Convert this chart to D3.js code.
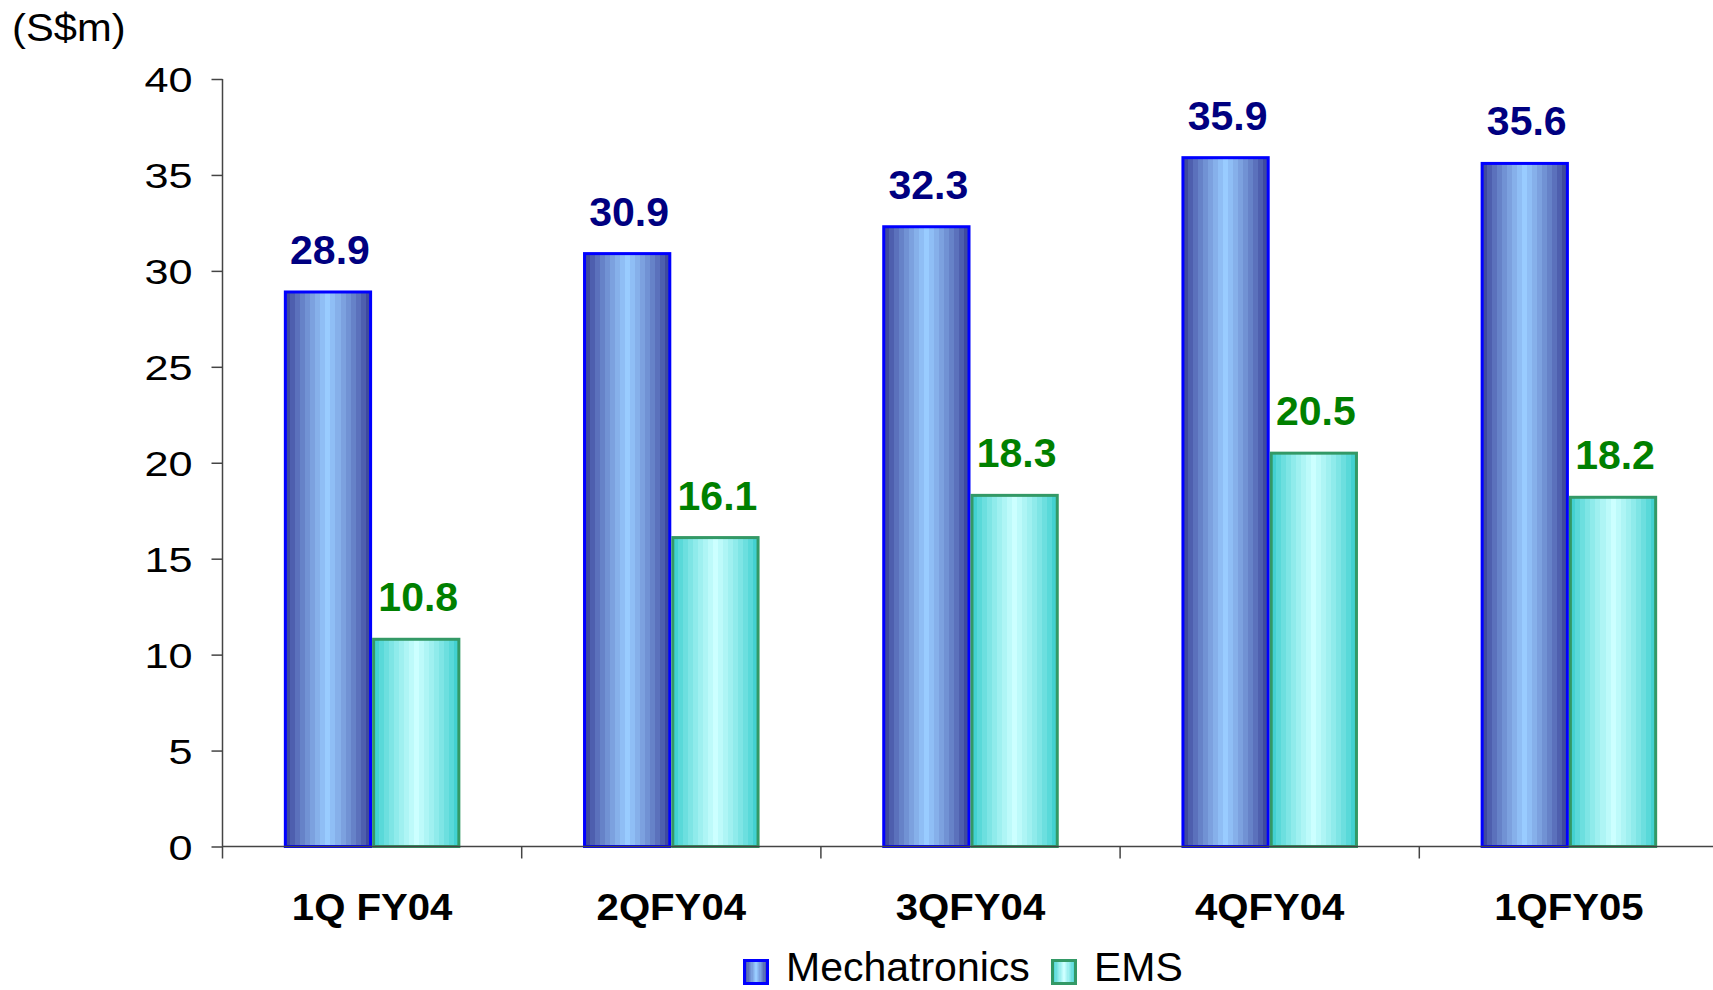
<!DOCTYPE html>
<html>
<head>
<meta charset="utf-8">
<script src="https://cdn.jsdelivr.net/npm/d3@7"></script>
<style>
  html, body { margin: 0; padding: 0; background: #fff; overflow: hidden; }
  svg { display: block; font-family: "Liberation Sans", Arial, sans-serif; }
</style>
</head>
<body>
<svg id="chart" width="1713" height="990"></svg>
<script>
// Quarterly revenue by segment (S$m)
const categories = ["1Q FY04", "2QFY04", "3QFY04", "4QFY04", "1QFY05"];
const seriesNames = ["Mechatronics", "EMS"];
const mechatronics = [28.9, 30.9, 32.3, 35.9, 35.6];
const ems = [10.8, 16.1, 18.3, 20.5, 18.2];
const yTicks = [0, 5, 10, 15, 20, 25, 30, 35, 40];

const seriesValues = [mechatronics, ems];
const styles = [
  { id: "gMech", edge: "#353b93", mid: "#99ccff", stroke: "#0000ff", label: "#000080" },
  { id: "gEms", edge: "#33cccc", mid: "#ccffff", stroke: "#339966", label: "#008000" }
];

const svg = d3.select("#chart");
const plotLeft = 222.5, plotTop = 79, plotBottom = 846.5;
const step = 299.2;

const x0 = d3.scaleBand()
  .domain(categories)
  .range([plotLeft, plotLeft + step * categories.length])
  .paddingInner(0.41)
  .paddingOuter(0.205);

const x1 = d3.scaleBand()
  .domain(seriesNames)
  .range([0, x0.bandwidth()])
  .padding(0);

const y = d3.scaleLinear().domain([0, 40]).range([plotBottom, plotTop]);

// Text helper: places a label at (x, y) with an optional horizontal stretch
function label(parent, x, yy, str, opts) {
  const sx = opts.sx || 1;
  return parent.append("text")
    .attr("transform", `translate(${x},${yy}) scale(${sx},1)`)
    .attr("text-anchor", opts.anchor || "start")
    .attr("font-size", opts.size)
    .attr("font-weight", opts.weight || "normal")
    .attr("fill", opts.fill || "#000")
    .text(str);
}

// Banded cylinder-style gradients: dark edges, light centre
const defs = svg.append("defs");
styles.forEach(s => {
  const g = defs.append("linearGradient").attr("id", s.id)
    .attr("x1", "0%").attr("x2", "100%").attr("y1", "0%").attr("y2", "0%");
  const bands = 17;
  const interp = d3.interpolateRgb(s.edge, s.mid);
  for (let i = 0; i < bands; i++) {
    const c = 1 - Math.abs((i + 0.5) / bands - 0.5) * 2; // 0 at edges, 1 at centre
    const col = interp(Math.pow(c, 0.8));
    g.append("stop").attr("offset", (i / bands * 100) + "%").attr("stop-color", col);
    g.append("stop").attr("offset", ((i + 1) / bands * 100) + "%").attr("stop-color", col);
  }
});

// Bars and value labels
const barLayer = svg.append("g");
categories.forEach((cat, ci) => {
  const g = barLayer.append("g").attr("transform", `translate(${x0(cat)},0)`);
  seriesNames.forEach((name, si) => {
    const s = styles[si];
    const v = seriesValues[si][ci];
    g.append("rect")
      .attr("x", x1(name) + 1.5)
      .attr("width", x1.bandwidth() - 3)
      .attr("y", y(v))
      .attr("height", y(0) - y(v))
      .attr("fill", `url(#${s.id})`)
      .attr("stroke", s.stroke)
      .attr("stroke-width", 3);
    label(g, x1(name) + x1.bandwidth() / 2 + 2, y(v) - 28, v.toFixed(1),
      { anchor: "middle", size: 41, weight: "bold", fill: s.label });
  });
});

// Y axis
const yAxis = d3.axisLeft(y).tickValues(yTicks).tickSize(11).tickPadding(18);
const yg = svg.append("g").attr("transform", `translate(${plotLeft},0)`).call(yAxis);
yg.select(".domain").attr("stroke", "#444").attr("stroke-width", 1.5).attr("d", `M0,${plotTop}V${plotBottom + 12}`);
yg.selectAll(".tick line").attr("stroke", "#444").attr("stroke-width", 1.5);
yg.selectAll(".tick text")
  .attr("x", null).attr("dy", "0.36em")
  .attr("transform", "translate(-30,0) scale(1.2,1)")
  .attr("text-anchor", "end")
  .attr("font-size", 36).attr("fill", "#000")
  .attr("font-family", "Liberation Sans, Arial, sans-serif");

// X axis with ticks at category boundaries
const xg = svg.append("g");
xg.append("line").attr("x1", plotLeft).attr("x2", 1713).attr("y1", plotBottom).attr("y2", plotBottom)
  .attr("stroke", "#444").attr("stroke-width", 1.5);
xg.selectAll("line.b")
  .data(categories.slice(1))
  .join("line")
  .attr("class", "b")
  .attr("x1", d => x0(d) - x0.step() * 0.205)
  .attr("x2", d => x0(d) - x0.step() * 0.205)
  .attr("y1", plotBottom).attr("y2", plotBottom + 12)
  .attr("stroke", "#444").attr("stroke-width", 1.5);
categories.forEach(cat => {
  label(xg, x0(cat) + x0.bandwidth() / 2, 920, cat,
    { anchor: "middle", size: 37.5, weight: "bold", sx: 1.07 });
});

// Unit label
label(svg, 12, 41, "(S$m)", { size: 39, sx: 1.07 });

// Legend
const legendX = [743, 1051];
const legend = svg.append("g");
seriesNames.forEach((name, si) => {
  const s = styles[si];
  const lx = legendX[si];
  legend.append("rect")
    .attr("x", lx + 1.5).attr("y", 960.5).attr("width", 23).attr("height", 23)
    .attr("fill", `url(#${s.id})`).attr("stroke", s.stroke).attr("stroke-width", 3);
  label(legend, lx + 43, 981, name, { size: 41 });
});
</script>
</body>
</html>
